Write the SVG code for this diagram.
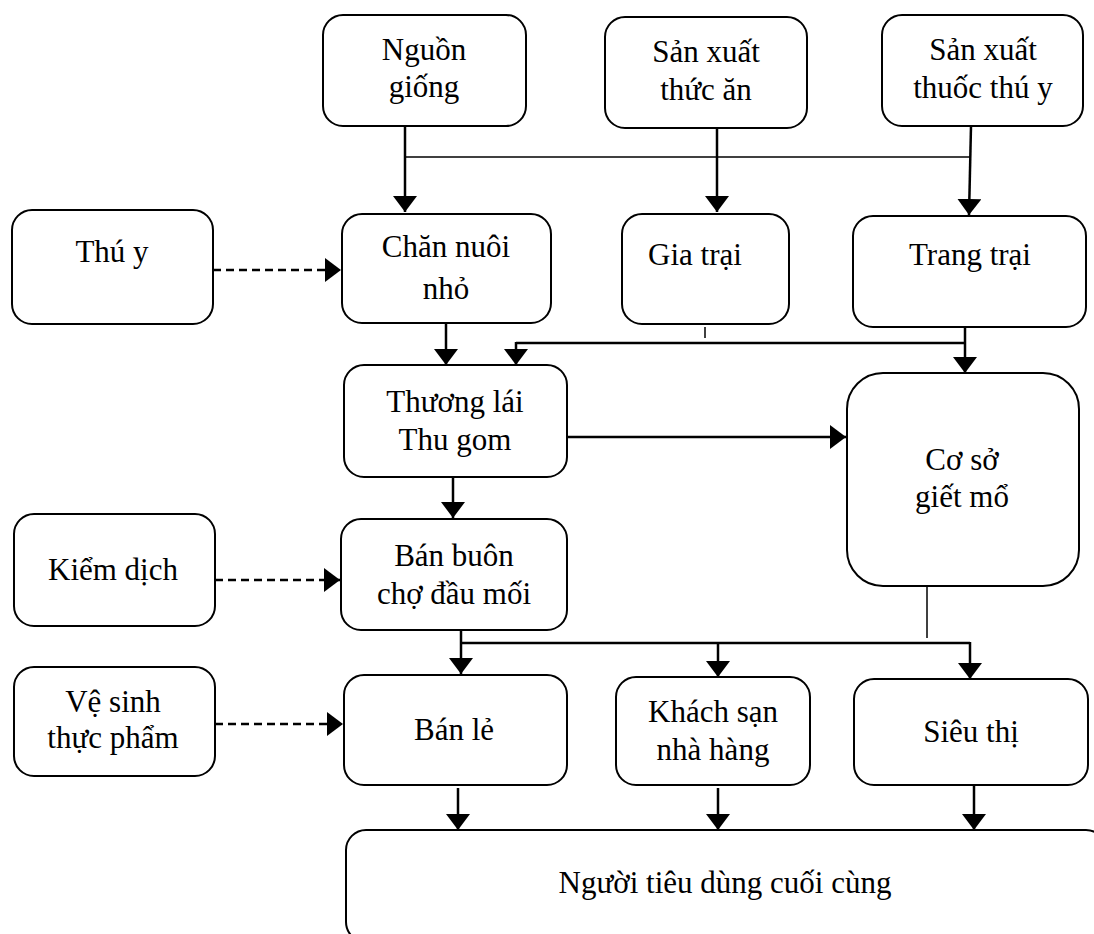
<svg xmlns="http://www.w3.org/2000/svg" width="1094" height="934" viewBox="0 0 1094 934">
<defs>
<marker id="ah" viewBox="0 0 16 24" refX="16" refY="12" markerWidth="16" markerHeight="24" markerUnits="userSpaceOnUse" orient="auto">
<path d="M0,0 L16,12 L0,24 z" fill="#000"/>
</marker>
</defs>
<style>
rect{fill:#fff;stroke:#000;stroke-width:2}
text{font-family:"Liberation Serif","Times New Roman",serif;font-size:31px;fill:#000;text-anchor:middle}
.c line{stroke:#000;stroke-width:2.5;fill:none}
.c .thin{stroke-width:1.5}
.c .arr{marker-end:url(#ah)}
.c .dash{stroke-dasharray:8 5}
</style>
<rect x="0" y="0" width="1094" height="934" style="fill:#fff;stroke:none"/>
<g id="nguon-giong"><rect x="323" y="15" width="203" height="111" rx="20"/><text x="424" y="60">Nguồn</text><text x="424" y="97">giống</text></g>
<g id="san-xuat-thuc-an"><rect x="605" y="17" width="202" height="111" rx="20"/><text x="706" y="62">Sản xuất</text><text x="706" y="100">thức ăn</text></g>
<g id="san-xuat-thuoc"><rect x="882" y="15" width="201" height="111" rx="20"/><text x="983" y="60">Sản xuất</text><text x="983" y="98">thuốc thú y</text></g>
<g id="thu-y"><rect x="12" y="210" width="201" height="114" rx="20"/><text x="112" y="262">Thú y</text></g>
<g id="chan-nuoi"><rect x="342" y="214" width="209" height="109" rx="20"/><text x="446" y="257">Chăn nuôi</text><text x="446" y="299">nhỏ</text></g>
<g id="gia-trai"><rect x="622" y="214" width="167" height="110" rx="20"/><text x="695" y="265">Gia trại</text></g>
<g id="trang-trai"><rect x="853" y="216" width="233" height="111" rx="20"/><text x="970" y="265">Trang trại</text></g>
<g id="thuong-lai"><rect x="344" y="365" width="223" height="112" rx="20"/><text x="455" y="412">Thương lái</text><text x="455" y="450">Thu gom</text></g>
<g id="co-so"><rect x="847" y="373" width="232" height="213" rx="36"/><text x="962" y="470">Cơ sở</text><text x="962" y="507">giết mổ</text></g>
<g id="kiem-dich"><rect x="14" y="514" width="201" height="112" rx="20"/><text x="113" y="580">Kiểm dịch</text></g>
<g id="ban-buon"><rect x="341" y="519" width="226" height="111" rx="20"/><text x="454" y="566">Bán buôn</text><text x="454" y="604">chợ đầu mối</text></g>
<g id="ve-sinh"><rect x="14" y="667" width="201" height="109" rx="20"/><text x="113" y="712">Vệ sinh</text><text x="113" y="748">thực phẩm</text></g>
<g id="ban-le"><rect x="344" y="675" width="223" height="110" rx="20"/><text x="454" y="740">Bán lẻ</text></g>
<g id="khach-san"><rect x="616" y="677" width="194" height="108" rx="20"/><text x="713" y="722">Khách sạn</text><text x="713" y="760">nhà hàng</text></g>
<g id="sieu-thi"><rect x="854" y="679" width="234" height="106" rx="20"/><text x="971" y="742">Siêu thị</text></g>
<g id="nguoi-tieu-dung"><rect x="346" y="830" width="760" height="112" rx="20"/><text x="725" y="893">Người tiêu dùng cuối cùng</text></g>
<g class="c" id="connectors">
<line x1="405" y1="126" x2="405" y2="212" class="arr"/>
<line x1="405" y1="157" x2="970" y2="157" class="thin"/>
<line x1="717" y1="128" x2="717" y2="212" class="arr"/>
<line x1="971" y1="126" x2="969" y2="215" class="arr"/>
<line x1="213" y1="270" x2="341" y2="270" class="arr dash"/>
<line x1="446" y1="323" x2="446" y2="365" class="arr"/>
<line x1="516" y1="343" x2="965" y2="343"/>
<line x1="516" y1="342" x2="516" y2="365" class="arr"/>
<line x1="965" y1="327" x2="965" y2="373" class="arr"/>
<line x1="705" y1="327" x2="705" y2="338" class="thin"/>
<line x1="567" y1="437" x2="846" y2="437" class="arr"/>
<line x1="453" y1="477" x2="453" y2="518" class="arr"/>
<line x1="215" y1="580" x2="340" y2="580" class="arr dash"/>
<line x1="461" y1="630" x2="461" y2="674" class="arr"/>
<line x1="461" y1="643" x2="970" y2="643"/>
<line x1="718" y1="642" x2="718" y2="677" class="arr"/>
<line x1="970" y1="642" x2="970" y2="679" class="arr"/>
<line x1="927" y1="586" x2="927" y2="638" class="thin"/>
<line x1="215" y1="724" x2="343" y2="724" class="arr dash"/>
<line x1="458" y1="788" x2="458" y2="830" class="arr"/>
<line x1="718" y1="788" x2="718" y2="830" class="arr"/>
<line x1="974" y1="786" x2="974" y2="830" class="arr"/>
</g>
</svg>
